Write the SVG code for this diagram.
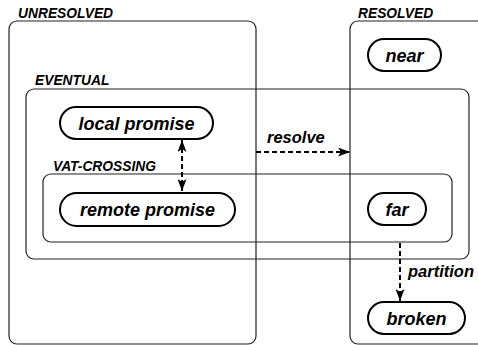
<svg xmlns="http://www.w3.org/2000/svg" width="478" height="345" viewBox="0 0 478 345">
<style>
.box{fill:none;stroke:#222;stroke-width:1.2}
.node{fill:#fff;stroke:#000;stroke-width:2}
.lbl{font-family:"Liberation Sans",Arial,sans-serif;font-weight:bold;font-style:italic;font-size:13.8px;fill:#000}
.nt{font-family:"Liberation Sans",Arial,sans-serif;font-weight:bold;font-style:italic;font-size:18px;fill:#000;text-anchor:middle}
.et{font-family:"Liberation Sans",Arial,sans-serif;font-weight:bold;font-style:italic;font-size:16.5px;fill:#000}
.edge{fill:none;stroke:#000;stroke-width:2;stroke-dasharray:5 3}
</style>
<defs>
<marker id="ah" viewBox="0 0 12 9" refX="12" refY="4.5" markerWidth="12" markerHeight="9" markerUnits="userSpaceOnUse" orient="auto-start-reverse">
<path d="M0,0 L12,4.5 L0,9 L3,4.5 Z" fill="#000"/>
</marker>
</defs>
<g id="containers">
<g id="unresolved"><rect class="box" x="9" y="21" width="247" height="323" rx="8"/><text class="lbl" x="18" y="18">UNRESOLVED</text></g>
<g id="resolved"><rect class="box" x="350" y="21" width="150" height="323" rx="8"/><text class="lbl" x="358" y="18">RESOLVED</text></g>
<g id="eventual"><rect class="box" x="26" y="89" width="443" height="170" rx="8"/><text class="lbl" x="35" y="85">EVENTUAL</text></g>
<g id="vatcrossing"><rect class="box" x="43" y="174" width="409" height="68" rx="8"/><text class="lbl" x="53" y="171">VAT-CROSSING</text></g>
</g>
<g id="connectors">
<line class="edge" x1="182" y1="140" x2="182" y2="191" marker-start="url(#ah)" marker-end="url(#ah)"/>
<line class="edge" x1="256" y1="152" x2="350" y2="152" marker-end="url(#ah)"/>
<text class="et" x="267" y="143">resolve</text>
<line class="edge" x1="400" y1="243" x2="400" y2="301" marker-end="url(#ah)"/>
<text class="et" x="408" y="277">partition</text>
</g>
<g id="local-promise"><rect class="node" x="60" y="107" width="153" height="32" rx="16"/><text class="nt" x="136.5" y="129.5">local promise</text></g>
<g id="remote-promise"><rect class="node" x="60" y="193" width="175" height="33" rx="16.5"/><text class="nt" x="147.5" y="216">remote promise</text></g>
<g id="near"><rect class="node" x="368" y="39" width="73" height="32" rx="16"/><text class="nt" x="404.5" y="61.5">near</text></g>
<g id="far"><rect class="node" x="368" y="193" width="58" height="32" rx="16"/><text class="nt" x="397" y="215.5">far</text></g>
<g id="broken"><rect class="node" x="368" y="302" width="97" height="32" rx="16"/><text class="nt" x="416.5" y="324.5">broken</text></g>
</svg>
